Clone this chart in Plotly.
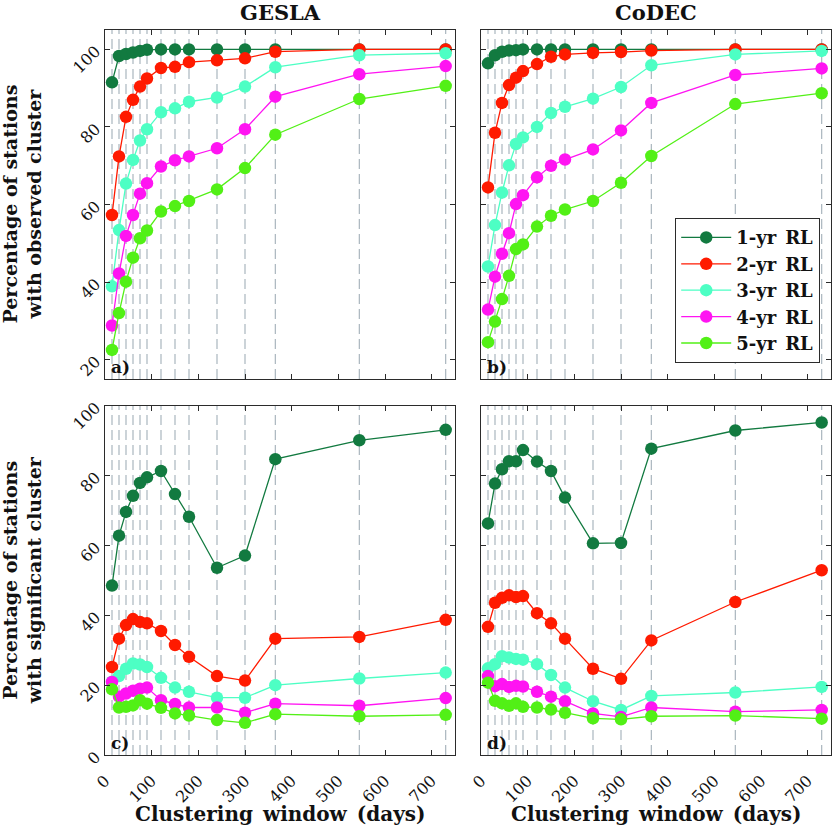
import plotly.graph_objects as go

# ---------------- data ----------------
windows = [15, 30, 45, 60, 75, 90, 120, 150, 180, 240, 300, 365, 545, 730]
series_names = ["1-yr RL", "2-yr RL", "3-yr RL", "4-yr RL", "5-yr RL"]

gesla_obs_1 = [91.5, 98.3, 98.8, 99.2, 99.6, 99.9, 100, 100, 100, 100, 100, 100, 100, 100]
gesla_obs_2 = [57.3, 72.4, 82.6, 87.0, 90.4, 92.5, 95.2, 95.5, 96.7, 97.2, 97.7, 99.4, 100, 100]
gesla_obs_3 = [38.9, 53.4, 65.4, 71.5, 76.5, 79.4, 83.8, 84.8, 86.5, 87.6, 90.4, 95.4, 98.5, 99.0]
gesla_obs_4 = [28.8, 42.2, 51.9, 57.3, 62.8, 65.5, 69.8, 71.4, 72.4, 74.5, 79.4, 87.8, 93.6, 95.7]
gesla_obs_5 = [22.5, 32.0, 40.1, 46.3, 51.3, 53.3, 58.2, 59.6, 60.9, 63.9, 69.4, 78.0, 87.2, 90.6]

codec_obs_1 = [96.4, 98.5, 99.4, 99.7, 99.8, 100, 100, 100, 100, 100, 100, 100, 100, 100]
codec_obs_2 = [64.4, 78.5, 86.2, 90.8, 92.7, 94.4, 96.2, 98.1, 98.7, 99.1, 99.3, 99.7, 100, 100]
codec_obs_3 = [44.0, 54.7, 63.1, 70.1, 75.6, 77.3, 80.0, 83.6, 85.2, 87.3, 90.3, 95.9, 98.7, 99.6]
codec_obs_4 = [32.9, 41.4, 47.3, 52.6, 60.1, 62.4, 67.0, 70.0, 71.6, 74.2, 79.1, 86.2, 93.4, 95.1]
codec_obs_5 = [24.5, 29.8, 35.6, 41.6, 48.5, 49.7, 54.3, 57.1, 58.7, 60.9, 65.6, 72.5, 85.9, 88.7]

gesla_sig_1 = [48.5, 62.8, 69.6, 74.2, 77.9, 79.5, 81.3, 74.7, 68.2, 53.6, 57.1, 84.7, 90.1, 93.1]
gesla_sig_2 = [25.2, 33.3, 37.2, 38.9, 38.1, 37.7, 35.5, 31.5, 28.1, 22.6, 21.3, 33.3, 33.8, 38.7]
gesla_sig_3 = [21.0, 22.6, 24.7, 26.2, 25.9, 25.2, 22.1, 19.3, 18.1, 16.4, 16.4, 20.0, 21.9, 23.6]
gesla_sig_4 = [20.9, 16.7, 17.6, 18.4, 19.0, 19.3, 15.7, 14.6, 13.6, 13.6, 12.1, 14.7, 14.1, 16.3]
gesla_sig_5 = [18.8, 13.6, 13.8, 14.2, 15.7, 14.7, 13.5, 11.9, 11.3, 10.0, 9.2, 11.7, 11.1, 11.5]

codec_sig_1 = [66.3, 77.7, 81.8, 84.1, 84.1, 87.3, 84.0, 81.3, 73.7, 60.6, 60.7, 87.7, 92.9, 95.2]
codec_sig_2 = [36.7, 43.6, 45.0, 45.7, 45.2, 45.5, 40.6, 37.7, 33.3, 24.7, 21.8, 32.8, 43.8, 52.9]
codec_sig_3 = [24.8, 26.0, 28.3, 27.9, 27.5, 27.3, 26.0, 22.9, 19.3, 15.4, 12.9, 16.9, 17.9, 19.5]
codec_sig_4 = [22.6, 19.7, 20.3, 19.5, 19.8, 19.6, 18.1, 16.7, 15.4, 11.9, 10.9, 13.6, 12.4, 12.9]
codec_sig_5 = [20.7, 15.5, 14.8, 14.1, 14.8, 13.8, 13.6, 13.0, 12.1, 10.5, 10.2, 11.1, 11.3, 10.4]

panel_titles = ["GESLA", "CoDEC"]
panel_labels = ["a)", "b)", "c)", "d)"]
ylabel_top = "Percentage of stations<br>with observed cluster"
ylabel_bot = "Percentage of stations<br>with significant cluster"
xlabel = "Clustering\u2002window\u2002(days)"
xticks = [0, 100, 200, 300, 400, 500, 600, 700]
yticks_top = [20, 40, 60, 80, 100]
yticks_bot = [0, 20, 40, 60, 80, 100]

colors = ["#127a40", "#ff1a00", "#4dffc4", "#ff14f2", "#52f016"]

panels = [
    [gesla_obs_1, gesla_obs_2, gesla_obs_3, gesla_obs_4, gesla_obs_5],
    [codec_obs_1, codec_obs_2, codec_obs_3, codec_obs_4, codec_obs_5],
    [gesla_sig_1, gesla_sig_2, gesla_sig_3, gesla_sig_4, gesla_sig_5],
    [codec_sig_1, codec_sig_2, codec_sig_3, codec_sig_4, codec_sig_5],
]

W, H = 833, 831
FONT = "DejaVu Serif"
FRAME = "#2b2b2b"

# pixel geometry
xdom = [(105 / W, 455 / W), (481 / W, 831 / W)]
ydom = [(1 - 379 / H, 1 - 30 / H), (1 - 755 / H, 1 - 405.7 / H)]

fig = go.Figure()

axis_ids = ["", "2", "3", "4"]
for p, data in enumerate(panels):
    xa = "x" + axis_ids[p]
    ya = "y" + axis_ids[p]
    for s, vals in enumerate(data):
        fig.add_trace(go.Scatter(
            x=windows, y=vals, mode="lines+markers",
            name="<b>%s</b>" % series_names[s].replace(" ", "\u2002"),
            line=dict(color=colors[s], width=1.3),
            marker=dict(color=colors[s], size=12.5, line=dict(width=0)),
            xaxis=xa, yaxis=ya,
            showlegend=(p == 1),
        ))
    for xv in windows:
        fig.add_shape(type="line", x0=xv, x1=xv, y0=0, y1=1,
                      xref=xa, yref=ya + " domain", layer="below",
                      line=dict(color="#aab6be", width=1.2, dash="10px,5px"))

layout = {}
for p in range(4):
    r, c = divmod(p, 2)
    xkey = "xaxis" + axis_ids[p]
    ykey = "yaxis" + axis_ids[p]
    top = r == 0
    layout[xkey] = dict(
        domain=list(xdom[c]), anchor="y" + axis_ids[p], range=[0, 750],
        tickvals=xticks, showticklabels=not top, tickangle=-45,
        ticks="inside", ticklen=5, tickcolor=FRAME, showgrid=False, zeroline=False,
        showline=True, linecolor=FRAME, linewidth=1.2, mirror="ticks",
        automargin=False, ticklabelstandoff=9,
        tickfont=dict(family=FONT, size=16, color="#111"),
    )
    layout[ykey] = dict(
        domain=list(ydom[r]), anchor="x" + axis_ids[p],
        range=[15, 105] if top else [0, 100],
        tickvals=yticks_top if top else yticks_bot,
        showticklabels=(c == 0), tickangle=-45,
        ticks="inside", ticklen=5, tickcolor=FRAME, showgrid=False, zeroline=False,
        showline=True, linecolor=FRAME, linewidth=1.2, mirror="ticks",
        automargin=False, ticklabelstandoff=5,
        tickfont=dict(family=FONT, size=16, color="#111"),
    )
fig.update_layout(**layout)

ann = []
for c in range(2):
    ann.append(dict(text="<b>%s</b>" % panel_titles[c], x=(xdom[c][0] + xdom[c][1]) / 2,
                    y=1 - 13 / H, xref="paper", yref="paper", showarrow=False,
                    font=dict(family=FONT, size=21, color="#111"), xanchor="center", yanchor="middle"))
    ann.append(dict(text="<b>%s</b>" % xlabel, x=(xdom[c][0] + xdom[c][1]) / 2,
                    y=1 - 814 / H, xref="paper", yref="paper", showarrow=False,
                    font=dict(family=FONT, size=20, color="#111"), xanchor="center", yanchor="middle"))
for r, lab in enumerate([ylabel_top, ylabel_bot]):
    ann.append(dict(text="<b>%s</b>" % lab, x=22 / W, y=(ydom[r][0] + ydom[r][1]) / 2,
                    xref="paper", yref="paper", showarrow=False, textangle=-90,
                    font=dict(family=FONT, size=19, color="#111"), xanchor="center", yanchor="middle"))
for p in range(4):
    ann.append(dict(text="<b>%s</b>" % panel_labels[p], x=0.01, y=0.0,
                    xref="x" + axis_ids[p] + " domain", yref="y" + axis_ids[p] + " domain",
                    showarrow=False, xanchor="left", yanchor="bottom",
                    font=dict(family=FONT, size=17, color="#111")))

fig.update_layout(
    width=W, height=H, margin=dict(l=0, r=0, t=0, b=0, autoexpand=False),
    paper_bgcolor="white", plot_bgcolor="white",
    annotations=ann,
    legend=dict(x=820 / W, y=1 - 363 / H, xanchor="right", yanchor="bottom",
                bgcolor="white", bordercolor=FRAME, borderwidth=1.2,
                font=dict(family=FONT, size=18, color="#111"),
                itemwidth=50, tracegroupgap=0, traceorder="normal"),
)

fig.write_html("out.html")
